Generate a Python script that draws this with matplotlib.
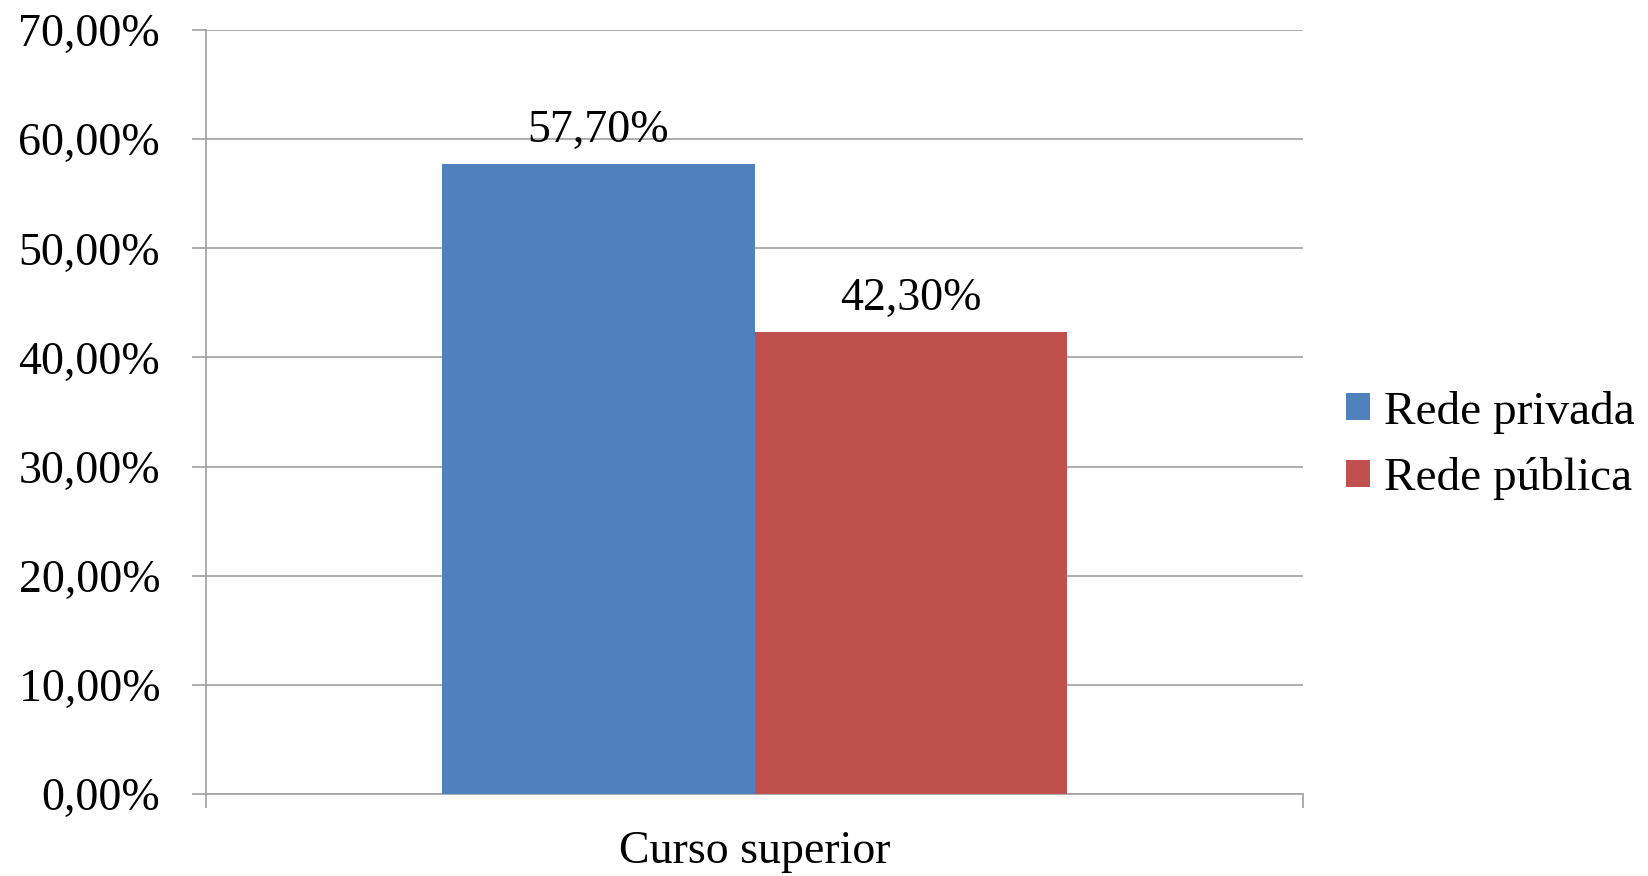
import matplotlib.pyplot as plt
from matplotlib.ticker import FuncFormatter

categories = ["Curso superior"]
series_names = ["Rede privada", "Rede pública"]
values = [57.70, 42.30]
colors = ["#4F81BD", "#C0504D"]
y_ticks = [0, 10, 20, 30, 40, 50, 60, 70]

plt.rcParams['font.family'] = ['Liberation Serif', 'DejaVu Serif']
fs = 33

fig = plt.figure(figsize=(16.48, 8.76), dpi=100)
ax = fig.add_axes([0.125, 0.0936, 0.6657, 0.8722])

width = 0.285
offsets = [-width / 2, width / 2]
for name, val, col, off in zip(series_names, values, colors, offsets):
    bars = ax.bar(off, val, width=width, color=col, label=name, zorder=3)
    ax.annotate(f"{val:.2f}%".replace(".", ","), (off, val),
                xytext=(0, 9), textcoords="offset points",
                ha="center", va="bottom", fontsize=fs, zorder=4)

ax.set_xlim(-0.5, 0.5)
ax.set_ylim(0, 70)
ax.set_yticks(y_ticks)
ax.yaxis.set_major_formatter(FuncFormatter(lambda v, p: f"{v:.2f}%".replace(".", ",")))
ax.grid(axis="y", color="#a0a0a0", linewidth=1.2, zorder=0)

ax.set_xticks([-0.5, 0.5])
ax.set_xticklabels(["", ""])
ax.set_xticks([0], minor=True)
ax.set_xticklabels(categories, minor=True)
ax.tick_params(axis="x", which="major", length=10, width=1.2, color="#a0a0a0")
ax.tick_params(axis="x", which="minor", length=0, pad=26, labelsize=fs)
ax.tick_params(axis="y", length=10, width=1.2, color="#a0a0a0", pad=23, labelsize=fs)

for s in ["top", "right"]:
    ax.spines[s].set_visible(False)
for s in ["left", "bottom"]:
    ax.spines[s].set_color("#a0a0a0")
    ax.spines[s].set_linewidth(1.2)

fig.legend(loc="center left", bbox_to_anchor=(0.817, 0.4916), frameon=False,
           fontsize=fs + 1, handlelength=0.5, handleheight=0.5,
           handletextpad=0.3, borderpad=0, borderaxespad=0, labelspacing=0.5)

fig.savefig("out.png", dpi=100)
